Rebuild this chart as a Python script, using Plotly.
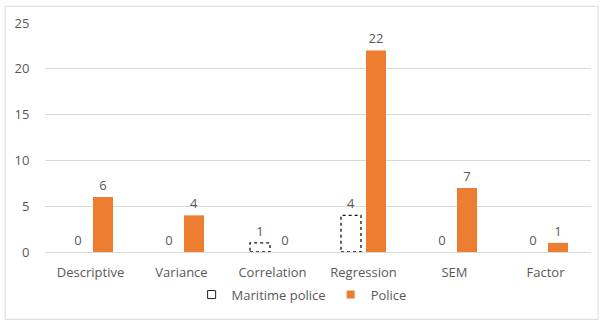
import plotly.graph_objects as go

categories = ["Descriptive", "Variance", "Correlation", "Regression", "SEM", "Factor"]
maritime = [0, 0, 1, 4, 0, 0]
police = [6, 4, 0, 22, 7, 1]
y_ticks = [0, 5, 10, 15, 20, 25]

GREY = "#595959"
ORANGE = "#ED7D31"
FONT = "Open Sans"
FS = 13

BARGAP = 0.45
GROUPGAP = 0.2

tf = dict(color=GREY, size=FS, family=FONT)

fig = go.Figure()
fig.add_trace(go.Bar(
    x=categories, y=maritime, name="Maritime police",
    marker=dict(color="white", line=dict(width=0)),
    text=maritime, textposition="outside", cliponaxis=False,
    textfont=tf, outsidetextfont=tf, insidetextfont=tf,
    showlegend=False,
))
fig.add_trace(go.Bar(
    x=categories, y=police, name="Police",
    marker=dict(color=ORANGE, line=dict(width=0)),
    text=police, textposition="outside", cliponaxis=False,
    textfont=tf, outsidetextfont=tf, insidetextfont=tf,
    showlegend=False,
))
# legend entries
fig.add_trace(go.Scatter(
    x=[None], y=[None], mode="markers", name="Maritime police",
    marker=dict(symbol="square-open", size=8, color="#222", line=dict(width=1, color="#222")),
))
fig.add_trace(go.Scatter(
    x=[None], y=[None], mode="markers", name="Police",
    marker=dict(symbol="square", size=8, color=ORANGE),
))

# dotted outlines for maritime bars, derived from bar geometry
slot = (1 - BARGAP) / 2
bw = slot * (1 - GROUPGAP)
for i, v in enumerate(maritime):
    if v > 0:
        c = i - slot / 2
        fig.add_shape(type="rect", xref="x", yref="y",
                      x0=c - bw / 2, x1=c + bw / 2, y0=0, y1=v,
                      line=dict(color="#111", width=1.3, dash="dot"),
                      fillcolor="white", layer="above")

# outer frame
fig.add_shape(type="rect", xref="paper", yref="paper",
              x0=-0.073, x1=1.013, y0=-0.294, y1=1.073,
              line=dict(color="#d9d9d9", width=1), layer="below")

fig.update_layout(
    width=605, height=322,
    margin=dict(l=45, r=14, t=23, b=68),
    paper_bgcolor="white", plot_bgcolor="white",
    barmode="group", bargap=BARGAP, bargroupgap=GROUPGAP,
    font=dict(family=FONT, color=GREY, size=FS),
    showlegend=True,
    legend=dict(orientation="h", x=0.47, xanchor="center", y=-0.186, yanchor="middle",
                font=dict(size=FS, color=GREY, family=FONT), itemwidth=30,
                tracegroupgap=0, traceorder="normal"),
    xaxis=dict(type="category", showgrid=False, showline=True, linecolor="#d9d9d9",
               ticks="outside", ticklen=8, tickcolor="rgba(0,0,0,0)",
               tickfont=tf),
    yaxis=dict(range=[0, 25], tickvals=y_ticks, showgrid=True, gridcolor="#d9d9d9",
               zeroline=False, showline=False,
               ticks="outside", ticklen=12, tickcolor="rgba(0,0,0,0)",
               tickfont=tf),
)

fig.write_html("out.html")
